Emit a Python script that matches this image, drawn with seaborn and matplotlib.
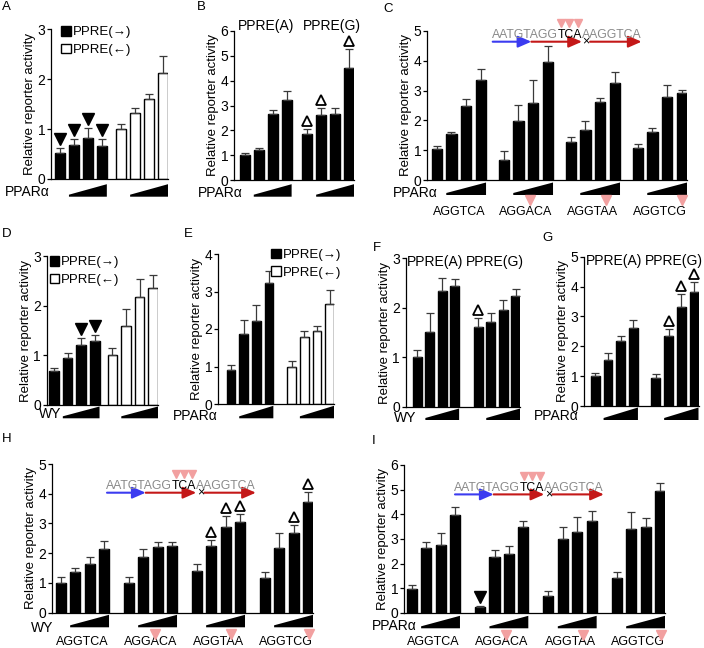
import numpy as np
import pandas as pd
import matplotlib
matplotlib.use("Agg")
import matplotlib.pyplot as plt
import seaborn as sns
from matplotlib.patches import Patch, FancyArrowPatch
from matplotlib.lines import Line2D
from matplotlib.font_manager import FontProperties
from matplotlib.transforms import blended_transform_factory, ScaledTranslation, offset_copy

# values (mean, upper error)
A_fwd = [0.52, 0.69, 0.82, 0.67]
A_fwd_err = [0.11, 0.11, 0.20, 0.13]
A_rev = [1.00, 1.32, 1.60, 2.13]
A_rev_err = [0.11, 0.11, 0.10, 0.34]

B_A = [1.00, 1.20, 2.65, 3.24]
B_A_err = [0.10, 0.07, 0.16, 0.33]
B_G = [1.87, 2.61, 2.65, 4.52]
B_G_err = [0.20, 0.29, 0.23, 0.74]

mut_labels = ["AGGTCA", "AGGACA", "AGGTAA", "AGGTCG"]
mut_pos = [None, 3, 4, 5]
site_seq = "AATGTAGGTCAAAGGTCA"

C_vals = [[1.04, 1.53, 2.49, 3.35], [0.67, 1.98, 2.59, 3.95],
          [1.28, 1.67, 2.61, 3.27], [1.08, 1.60, 2.78, 2.91]]
C_errs = [[0.11, 0.09, 0.22, 0.38], [0.30, 0.55, 0.76, 0.54],
          [0.15, 0.32, 0.15, 0.36], [0.12, 0.13, 0.42, 0.10]]

D_fwd = [0.69, 0.95, 1.21, 1.28]
D_fwd_err = [0.06, 0.10, 0.13, 0.12]
D_rev = [1.01, 1.59, 2.18, 2.36]
D_rev_err = [0.14, 0.34, 0.35, 0.26]

E_fwd = [0.90, 1.88, 2.22, 3.22]
E_fwd_err = [0.15, 0.37, 0.43, 0.34]
E_rev = [1.00, 1.79, 1.94, 2.68]
E_rev_err = [0.14, 0.16, 0.15, 0.36]

F_A = [1.01, 1.52, 2.33, 2.43]
F_A_err = [0.14, 0.38, 0.27, 0.14]
F_G = [1.62, 1.71, 1.95, 2.23]
F_G_err = [0.17, 0.18, 0.21, 0.14]

G_A = [1.00, 1.54, 2.18, 2.60]
G_A_err = [0.12, 0.22, 0.17, 0.28]
G_G = [0.95, 2.35, 3.30, 3.83]
G_G_err = [0.12, 0.22, 0.45, 0.31]

H_vals = [[1.01, 1.38, 1.63, 2.13], [1.01, 1.88, 2.20, 2.24],
          [1.40, 2.24, 2.89, 3.04], [1.18, 2.19, 2.69, 3.73]]
H_errs = [[0.18, 0.11, 0.25, 0.28], [0.20, 0.25, 0.17, 0.15],
          [0.23, 0.20, 0.36, 0.27], [0.20, 0.50, 0.26, 0.32]]

I_vals = [[0.97, 2.63, 2.76, 3.98], [0.23, 2.29, 2.39, 3.50],
          [0.67, 2.99, 3.30, 3.71], [1.42, 3.40, 3.50, 4.96]]
I_errs = [[0.16, 0.23, 0.47, 0.33], [0.04, 0.27, 0.33, 0.23],
          [0.21, 0.51, 0.58, 0.44], [0.24, 0.71, 0.34, 0.32]]

# significance marks as (group, bar)
A_down = [(0, 0), (0, 1), (0, 2), (0, 3)]
B_up = [(1, 0), (1, 1), (1, 3)]
D_down = [(0, 2), (0, 3)]
F_up = [(1, 0)]
G_up = [(1, 1), (1, 2), (1, 3)]
H_up = [(2, 1), (2, 2), (2, 3), (3, 2), (3, 3)]
I_down = [(1, 0)]

W, H = 704, 648
sns.set_theme(style="ticks")
plt.rcParams["font.family"] = ["Liberation Sans", "DejaVu Sans"]
plt.rcParams.update({"text.color": "black", "axes.labelcolor": "black",
                     "xtick.color": "black", "ytick.color": "black",
                     "axes.edgecolor": "black", "axes.linewidth": 0.9})
pal = {"filled": "black", "open": "white"}
PINK = "#f2a0a0"
GRAY = "#8a8a8a"
BLUE = "#3b3bf0"
RED = "#c41818"

fig = plt.figure(figsize=(W / 100, H / 100), dpi=100)
fig.patch.set_facecolor("white")
pink_marks = []
seq_spots = []


def below(dx, dy):
    # shift by pixels (dpi is 100)
    return ScaledTranslation(dx / 100, -dy / 100, fig.dpi_scale_trans)


def panel(rect, vals, errs, kinds, ymax, offset, xleft, down=(), up=(),
          dose="PPARα", dose_dx=0, base=17, wedge=15):
    l, t, r, b = rect
    ax = fig.add_axes([l / W, 1 - b / H, (r - l) / W, (b - t) / H])
    rows = []
    for g, (vs, es, k) in enumerate(zip(vals, errs, kinds)):
        for i, (v, e) in enumerate(zip(vs, es)):
            rows.append({"x": g * offset + i, "value": v, "err": e,
                         "kind": k, "g": g, "i": i})
    df = pd.DataFrame(rows)
    sns.barplot(data=df, x="x", y="value", hue="kind", palette=pal,
                native_scale=True, dodge=False, width=0.7, edgecolor="black",
                linewidth=1, legend=False, ax=ax)
    ax.errorbar(df["x"], df["value"], yerr=[np.zeros(len(df)), df["err"]],
                fmt="none", ecolor="#3a3a3a", elinewidth=0.9, capsize=2.8,
                capthick=0.9, zorder=3)
    ng = len(vals)
    ax.set_xlim(xleft, (ng - 1) * offset + 3 + 0.35)
    ax.set_ylim(0, ymax)
    ax.set_yticks(range(ymax + 1))
    ax.set_xticks([])
    ax.set_xlabel("")
    ax.set_ylabel("Relative reporter activity", fontsize=9.5, labelpad=1)
    ax.tick_params(axis="y", length=3, width=0.9, pad=1, labelsize=10)
    sns.despine(ax=ax)

    top = df.set_index(["g", "i"])
    tr = offset_copy(ax.transData, fig=fig, x=0, y=9, units="dots")
    for g, i in down:
        row = top.loc[(g, i)]
        ax.plot([row["x"]], [row["value"] + row["err"]], ls="none", marker="v",
                ms=8, color="black", transform=tr, clip_on=False)
    tr2 = offset_copy(ax.transData, fig=fig, x=0, y=8, units="dots")
    for g, i in up:
        row = top.loc[(g, i)]
        ax.plot([row["x"]], [row["value"] + row["err"]], ls="none", marker="^",
                ms=7.5, mfc="white", mec="black", mew=1.3, transform=tr2,
                clip_on=False)

    # dose wedges
    hpx = b - t
    btr = blended_transform_factory(ax.transData, ax.transAxes)
    y_bot = -wedge / hpx
    y_top = -max(wedge - 12.5, 1.5) / hpx
    y_tip = -(wedge - 2) / hpx
    for g in range(ng):
        xl = g * offset + 1 - 0.35
        xr = g * offset + 3 + 0.35
        ax.fill([xl, xr, xr, xl], [y_bot, y_bot, y_top, y_tip], color="black",
                lw=0, transform=btr, clip_on=False)
    ax.text(0, 0, dose, transform=ax.transAxes + below(dose_dx, base),
            ha="right", va="baseline", fontsize=10)
    return ax


def seq_labels(ax, offset, base, tri_dy):
    btr = blended_transform_factory(ax.transData, ax.transAxes)
    for g, (lab, pos) in enumerate(zip(mut_labels, mut_pos)):
        t = ax.text(g * offset + 1.5, 0, lab, transform=btr + below(0, base),
                    ha="center", va="baseline", fontsize=9)
        if pos is not None:
            pink_marks.append((ax, t, 6, pos, tri_dy))


def legend(ax, x, y, labels):
    handles = [Patch(facecolor="black", edgecolor="black"),
               Patch(facecolor="white", edgecolor="black", linewidth=1)]
    ax.legend(handles, labels, loc="upper left",
              bbox_to_anchor=(x / W, 1 - y / H), bbox_transform=fig.transFigure,
              frameon=False, handlelength=0.75, handleheight=0.75,
              handletextpad=0.15, borderpad=0, borderaxespad=0,
              labelspacing=0.4, fontsize=9.5)


kinds2 = ["filled", "open"]
dirs = ["PPRE(→)", "PPRE(←)"]

axA = panel((51, 29.3, 168, 179), [A_fwd, A_rev], [A_fwd_err, A_rev_err], kinds2,
            3, 4.36, -0.63, down=A_down, dose_dx=-1, base=17.5, wedge=17.7)
legend(axA, 61, 26, dirs)

axB = panel((234, 31, 354, 180), [B_A, B_G], [B_A_err, B_G_err], ["filled"] * 2,
            6, 4.45, -0.76, up=B_up, dose_dx=9, base=17, wedge=16.7)

axC = panel((427, 31, 687, 180), C_vals, C_errs, ["filled"] * 4,
            5, 4.55, -0.66, dose_dx=11, base=16.7, wedge=15)
seq_labels(axC, 4.55, 35, 20)
seq_spots.append((491.7, 38.3))

axD = panel((46.5, 256, 158, 405), [D_fwd, D_rev], [D_fwd_err, D_rev_err], kinds2,
            3, 4.3, -0.55, down=D_down, dose="WY", dose_dx=15, base=12.5, wedge=13.3)
legend(axD, 49.5, 256, dirs)

axE = panel((218, 254, 334, 404), [E_fwd, E_rev], [E_fwd_err, E_rev_err], kinds2,
            4, 4.8, -1.03, dose_dx=0, base=16, wedge=14.3)
legend(axE, 271, 248.5, dirs)

axF = panel((405.5, 258, 520, 407), [F_A, F_G], [F_A_err, F_G_err], ["filled"] * 2,
            3, 4.87, -0.94, up=F_up, dose="WY", dose_dx=11, base=15, wedge=13)

axG = panel((584, 256.7, 698.5, 406), [G_A, G_G], [G_A_err, G_G_err], ["filled"] * 2,
            5, 4.76, -0.89, up=G_up, dose_dx=-5, base=14.5, wedge=14)

axH = panel((52, 464, 313, 612.7), H_vals, H_errs, ["filled"] * 4,
            5, 4.72, -0.61, up=H_up, dose="WY", dose_dx=1, base=19, wedge=14.6)
seq_labels(axH, 4.72, 32.5, 21)
seq_spots.append((106, 489.3))

axI = panel((404, 465, 665, 613), I_vals, I_errs, ["filled"] * 4,
            6, 4.75, -0.54, down=I_down, dose_dx=13, base=17, wedge=15.3)
seq_labels(axI, 4.75, 32, 22)
seq_spots.append((454, 491))

# PPRE(A) / PPRE(G) headers
for ax, off, dy, shifts in [(axB, 4.45, -1, (0, 0.25)), (axF, 4.87, 8, (-0.05, -0.15)),
                            (axG, 4.76, 8.3, (0, -0.1))]:
    btr = blended_transform_factory(ax.transData, ax.transAxes)
    for g, name in enumerate(["PPRE(A)", "PPRE(G)"]):
        ax.text(g * off + 1.5 + shifts[g], 1, name, transform=btr + below(0, dy),
                ha="center", va="baseline", fontsize=10)

for letter, x, y in [("A", 2, 1.5), ("B", 197, 1.5), ("C", 383, 3), ("D", 2, 228),
                     ("E", 184, 228), ("F", 373, 242), ("G", 542, 232),
                     ("H", 2, 433), ("I", 372, 435)]:
    fig.text(x / W, 1 - y / H, letter, ha="left", va="top", fontsize=9.5)

# second pass: place the response-element drawings from measured text widths
fig.canvas.draw()
rend = fig.canvas.get_renderer()
fp = FontProperties(family=["Liberation Sans", "DejaVu Sans"], size=8.8)


def wpx(s):
    return rend.get_text_width_height_descent(s, fp, ismath=False)[0] if s else 0.0


def tri(x, y, ms):
    fig.add_artist(Line2D([x / W], [y / H], transform=fig.transFigure,
                          marker="v", ms=ms, color=PINK, ls="none"))


def arrow(x0, x1, y, color):
    fig.add_artist(FancyArrowPatch((x0 / W, y / H), (x1 / W, y / H),
                                   transform=fig.transFigure,
                                   arrowstyle="-|>,head_length=0.8,head_width=0.35",
                                   mutation_scale=10, color=color, lw=1.5,
                                   shrinkA=0, shrinkB=0))


for x, y in seq_spots:
    yb = H - y
    for k0, k1, c in [(0, 8, GRAY), (8, 11, "black"), (11, 18, GRAY)]:
        fig.text((x + wpx(site_seq[:k0])) / W, yb / H, site_seq[k0:k1],
                 color=c, fontproperties=fp, ha="left", va="baseline")
    ay = yb - 3.4
    arrow(x + 1, x + wpx(site_seq[:5]), ay, BLUE)
    arrow(x + wpx(site_seq[:5]), x + wpx(site_seq[:11]), ay, RED)
    arrow(x + wpx(site_seq[:12]), x + wpx(site_seq), ay, RED)
    xc = x + (wpx(site_seq[:11]) + wpx(site_seq[:12])) / 2
    fig.text(xc / W, ay / H, "×", ha="center", va="center", fontsize=9)
    for k in (8, 9, 10):
        tri(x + (wpx(site_seq[:k]) + wpx(site_seq[:k + 1])) / 2, yb + 15.5, 6)

for ax, txt, n, pos, dy in pink_marks:
    bb = txt.get_window_extent(rend)
    axis_y = ax.get_window_extent(rend).y0
    tri(bb.x0 + (pos + 0.5) / n * bb.width, axis_y - dy, 6.5)

fig.savefig("out.png", dpi=100, facecolor="white")
